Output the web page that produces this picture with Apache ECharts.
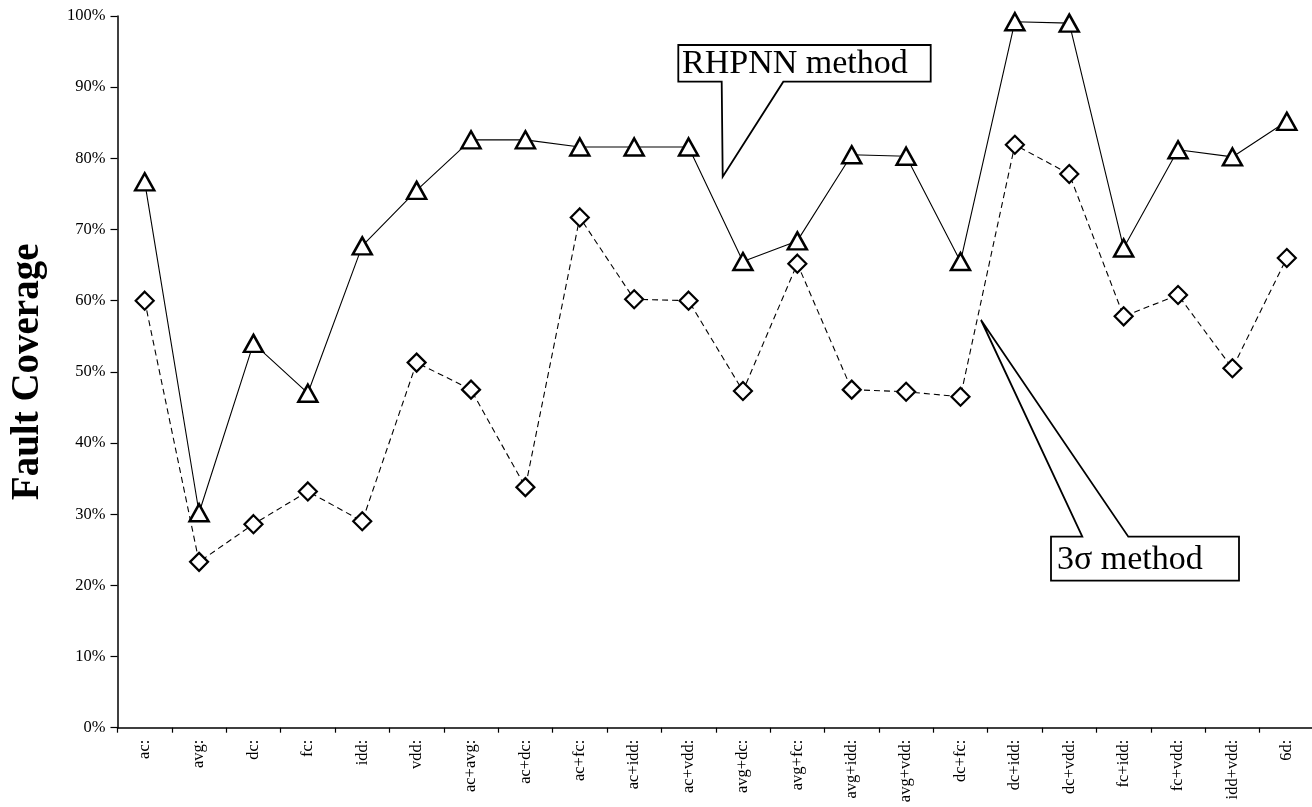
<!DOCTYPE html>
<html>
<head>
<meta charset="utf-8">
<script src="https://cdn.jsdelivr.net/npm/echarts@6/dist/echarts.min.js"></script>
<style>
html,body{margin:0;padding:0;background:#fff;}
#chart{width:1312px;height:807px;}
</style>
</head>
<body>
<div id="chart"></div>
<script>
const categories = ['ac:','avg:','dc:','fc:','idd:','vdd:','ac+avg:','ac+dc:','ac+fc:','ac+idd:','ac+vdd:','avg+dc:','avg+fc:','avg+idd:','avg+vdd:','dc+fc:','dc+idd:','dc+vdd:','fc+idd:','fc+vdd:','idd+vdd:','6d:'];
const rhpnn = [76.7, 30.2, 54.0, 47.0, 67.7, 75.5, 82.6, 82.6, 81.6, 81.6, 81.6, 65.5, 68.4, 80.5, 80.3, 65.5, 99.2, 99.0, 67.4, 81.2, 80.2, 85.2];
const sigma3 = [60.0, 23.3, 28.6, 33.2, 29.0, 51.3, 47.5, 33.8, 71.7, 60.2, 60.0, 47.3, 65.2, 47.5, 47.2, 46.5, 81.9, 77.8, 57.8, 60.8, 50.5, 66.0];
const yTicks = {min: 0, max: 100, interval: 10};

const serif = '"Liberation Serif", "DejaVu Serif", serif';
const chart = echarts.init(document.getElementById('chart'), null, {renderer: 'canvas'});
chart.setOption({
  backgroundColor: '#fff',
  animation: false,
  grid: {left: 117.5, right: -2, top: 16, bottom: 79.3, containLabel: false, outerBoundsMode: 'none'},
  xAxis: {
    type: 'category',
    data: categories,
    boundaryGap: true,
    axisLine: {lineStyle: {color: '#000', width: 1.5}},
    axisTick: {show: true, inside: false, length: 5, alignWithLabel: false, lineStyle: {color: '#000', width: 1.2}},
    axisLabel: {rotate: 90, interval: 0, margin: 12, color: '#000', fontFamily: serif, fontSize: 16.5}
  },
  yAxis: {
    type: 'value',
    min: yTicks.min, max: yTicks.max, interval: yTicks.interval,
    name: 'Fault Coverage',
    nameLocation: 'middle',
    nameRotate: 90,
    nameGap: 70,
    nameTextStyle: {color: '#000', fontFamily: serif, fontSize: 39, fontWeight: 'bold'},
    axisLine: {show: true, lineStyle: {color: '#000', width: 1.5}},
    axisTick: {show: true, length: 7, lineStyle: {color: '#000', width: 1.2}},
    splitLine: {show: false},
    axisLabel: {formatter: '{value}%', margin: 12, color: '#000', fontFamily: serif, fontSize: 16.5}
  },
  series: [
    {
      name: 'RHPNN method',
      type: 'line',
      data: rhpnn,
      symbol: 'triangle',
      symbolSize: [19, 17],
      lineStyle: {color: '#000', width: 1.1, type: 'solid'},
      itemStyle: {color: '#fff', borderColor: '#000', borderWidth: 2.5},
      z: 3
    },
    {
      name: '3σ method',
      type: 'line',
      data: sigma3,
      symbol: 'diamond',
      symbolSize: [18, 18],
      lineStyle: {color: '#000', width: 1.1, type: [6, 4]},
      itemStyle: {color: '#fff', borderColor: '#000', borderWidth: 2.2},
      z: 2
    }
  ],
  graphic: [
    {
      type: 'polygon', z: 10,
      shape: {points: [[721.7,81.7],[678.3,81.7],[678.3,45],[930.7,45],[930.7,81.7],[783.3,81.7],[722.7,176.7]]},
      style: {fill: '#fff', stroke: '#000', lineWidth: 1.8}
    },
    {
      type: 'text', z: 11, left: 682, top: 47,
      style: {text: 'RHPNN method', font: '34px ' + serif, fill: '#000'}
    },
    {
      type: 'polygon', z: 10,
      shape: {points: [[1082.3,536.7],[1051,536.7],[1051,580.7],[1239,580.7],[1239,536.7],[1128.3,536.7],[981,320]]},
      style: {fill: '#fff', stroke: '#000', lineWidth: 1.8}
    },
    {
      type: 'text', z: 11, left: 1057, top: 543,
      style: {text: '3σ method', font: '34px ' + serif, fill: '#000'}
    }
  ]
});
</script>
</body>
</html>
